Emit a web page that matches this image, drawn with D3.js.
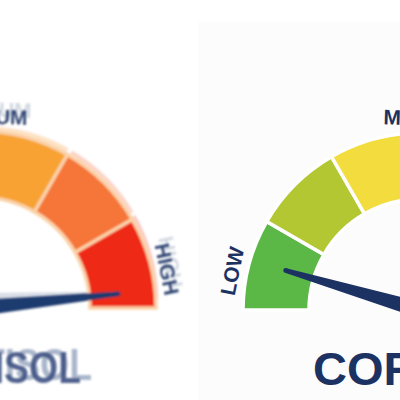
<!DOCTYPE html>
<html><head><meta charset="utf-8">
<script src="https://cdn.jsdelivr.net/npm/d3@7"></script>
<style>html,body{margin:0;padding:0;background:#fff;}svg{display:block;}</style>
</head><body>
<script>
// ---- data ----
const zones = ["LOW", "", "MEDIUM", "", "", "HIGH"];
const segmentCount = [0, 1, 2, 3, 4, 5];
const zoneColors = ["#5cb846", "#b3c733", "#f2dc3e", "#f7a233", "#f67438", "#ee2b14"];
const labelTexts = ["LOW", "MEDIUM", "HIGH"];
const labelValues = [6.5, 51, 93.5];          // positions of labels on the 0-100 scale
const gaugeValues = [96.8, 9.1];               // left gauge (blurred), right gauge
const titleText = "CORTISOL";

const W = 400, H = 400;
const svg = d3.select("body").append("svg").attr("width", W).attr("height", H);
svg.append("rect").attr("width", W).attr("height", H).attr("fill", "#ffffff");
svg.append("rect").attr("x", 198).attr("y", 22).attr("width", 202).attr("height", 378).attr("fill", "#fcfcfc");

const defs = svg.append("defs");
defs.append("filter").attr("id", "blur").attr("x", "-20%").attr("y", "-20%").attr("width", "140%").attr("height", "140%")
  .append("feGaussianBlur").attr("stdDeviation", 0.8);

const segScale = d3.scaleLinear().domain([0, 6]).range([-Math.PI / 2, Math.PI / 2]);
const valScale = d3.scaleLinear().domain([0, 100]).range([-Math.PI / 2, Math.PI / 2]);
const rIn = 111, rOut = 177, rLabel = 192, needleLen = 140;
const navy = "#1c3263";
const font = "'Liberation Sans', Arial, sans-serif";

function drawGauge(g, value, opt) {
  const arc = d3.arc().innerRadius(rIn).outerRadius(rOut);
  g.selectAll("path.seg").data(segmentCount).join("path").attr("class", "seg")
    .attr("d", i => arc({startAngle: segScale(i), endAngle: segScale(i + 1)}))
    .attr("fill", i => zoneColors[i])
    .attr("stroke", opt.gapColor).attr("stroke-width", 3.5);
  // labels
  g.selectAll("text.lab").data(labelTexts).join("text").attr("class", "lab")
    .attr("transform", (d, i) => {
      const a = valScale(labelValues[i]);
      const x = rLabel * Math.sin(a), y = -rLabel * Math.cos(a);
      return `translate(${x},${y}) rotate(${a * 180 / Math.PI})`;
    })
    .attr("text-anchor", "middle").attr("dy", "0.36em")
    .attr("font-family", font).attr("font-weight", 700)
    .attr("font-size", 21).attr("fill", opt.textColor).text(d => d);
  // needle
  const a = valScale(value);
  const ux = Math.sin(a), uy = -Math.cos(a);
  const px = -uy, py = ux;
  const baseHW = 8, tipHW = 2.4;
  const tipX = ux * needleLen, tipY = uy * needleLen;
  const pts = [[px * baseHW, py * baseHW], [tipX + px * tipHW, tipY + py * tipHW],
               [tipX - px * tipHW, tipY - py * tipHW], [-px * baseHW, -py * baseHW]];
  g.append("path").attr("d", d3.line()(pts) + "Z").attr("fill", opt.needleColor);
  g.append("circle").attr("cx", tipX).attr("cy", tipY).attr("r", tipHW).attr("fill", opt.needleColor);
}

// ---- right gauge (sharp) ----
const gR = svg.append("g").attr("transform", "translate(420,310)");
drawGauge(gR, gaugeValues[1], {gapColor: "#ffffff", textColor: navy, needleColor: navy});
svg.append("text").attr("x", 313).attr("y", 385)
  .attr("font-family", font).attr("font-weight", 700)
  .attr("font-size", 47).attr("fill", navy).text(titleText);

// ---- left gauge (motion-blurred, with ghost) ----
const left = svg.append("g").attr("filter", "url(#blur)");
const gGhost = left.append("g").attr("transform", "translate(-17,301)").attr("opacity", 0.3);
drawGauge(gGhost, gaugeValues[0] + 1.5, {gapColor: "#ffffff", textColor: "#6b7d9c", needleColor: "#7d8fb0"});
const gL = left.append("g").attr("transform", "translate(-21,308)");
drawGauge(gL, gaugeValues[0], {gapColor: "#fbd2a8", textColor: "#2e4472", needleColor: "#1f3a6e"});
left.append("g").attr("transform", "translate(92,380) scale(0.85,1)")
  .append("text").attr("text-anchor", "end")
  .attr("font-family", font).attr("font-weight", 700)
  .attr("font-size", 44).attr("fill", "#aab6cb").text(titleText);
left.append("g").attr("transform", "translate(81,383) scale(0.85,1)")
  .append("text").attr("text-anchor", "end")
  .attr("font-family", font).attr("font-weight", 700)
  .attr("font-size", 44).attr("fill", "#3e5383").attr("opacity", 0.9).text(titleText);
</script>
</body></html>
